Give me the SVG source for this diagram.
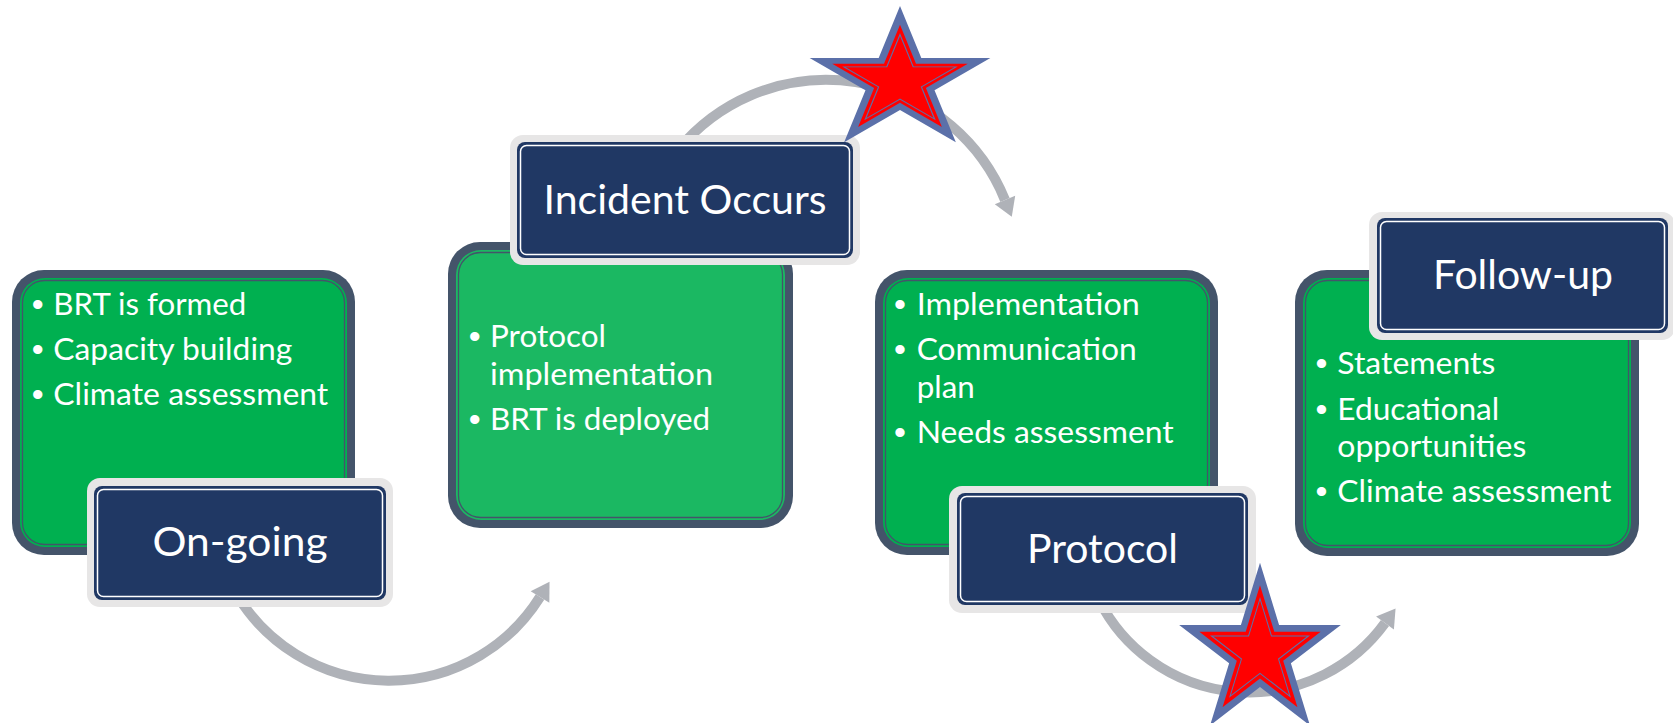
<svg xmlns="http://www.w3.org/2000/svg" xmlns:xlink="http://www.w3.org/1999/xlink" width="1673" height="723" viewBox="0 0 1673 723">
  <style>
    .rim { fill: #44546A; }
    .fill { fill: #00B050; }
    .fill2 { fill: #1BB862; }
    .keyline { fill: none; stroke: #44546A; stroke-width: 1.3; }
    .frame { fill: #E7E6E6; }
    .navy { fill: #203864; }
    .navyline { fill: none; stroke: #FFFFFF; stroke-width: 1.5; }
    .title { font-family: Lato, "Liberation Sans", sans-serif; font-size: 41px; fill: #FFFFFF; text-anchor: middle; }
    .item { font-family: Lato, "Liberation Sans", sans-serif; font-size: 31px; fill: #FFFFFF; }
    .dot { font-family: "Liberation Sans", sans-serif; font-size: 34px; fill: #FFFFFF; text-anchor: middle; }
    .arc { fill: none; stroke: #AFB2B8; stroke-width: 10; marker-end: url(#head); }
    .starOuter { fill: #5B70A9; }
    .starRed { fill: #FF0000; }
    .starLine { fill: none; stroke: #5B70A9; stroke-width: 2; vector-effect: non-scaling-stroke; }
  </style>
  <defs>
    <marker id="head" markerUnits="userSpaceOnUse" markerWidth="20" markerHeight="24" refX="0" refY="12" orient="auto" overflow="visible">
      <path d="M0,1 L18,12 L0,23 Z" fill="#AFB2B8"/>
    </marker>
    <!-- five-point star, outer radius 100, centred on the origin -->
    <polygon id="star" points="0,-100 22.45,-30.9 95.11,-30.9 36.33,11.8 58.78,80.9 0,38.2 -58.78,80.9 -36.33,11.8 -95.11,-30.9 -22.45,-30.9"/>
  </defs>

  <!-- curved arrows between the stages -->
  <g id="connectors">
    <path class="arc" d="M 236.9 595 A 178 178 0 0 0 540 597"/>
    <path class="arc" d="M 678 150 A 192.5 192.5 0 0 1 1005 200"/>
    <path class="arc" d="M 1099 600 A 168 168 0 0 0 1385 623"/>
  </g>

  <!-- stage 1 -->
  <g id="ongoing">
    <rect class="rim" x="12" y="270" width="343" height="285" rx="32"/>
    <rect class="fill" x="20" y="278" width="327" height="269" rx="25"/>
    <rect class="keyline" x="22.5" y="280.5" width="322" height="264" rx="22"/>
    <text class="dot" x="37.7" y="316">•</text>
    <text class="item" x="53.3" y="315" textLength="193" lengthAdjust="spacingAndGlyphs">BRT is formed</text>
    <text class="dot" x="37.7" y="361">•</text>
    <text class="item" x="53.3" y="360" textLength="239" lengthAdjust="spacingAndGlyphs">Capacity building</text>
    <text class="dot" x="37.7" y="406">•</text>
    <text class="item" x="53.3" y="405" textLength="275" lengthAdjust="spacingAndGlyphs">Climate assessment</text>
    <rect class="frame" x="87" y="478" width="306" height="129" rx="13"/>
    <rect class="navy" x="94" y="486" width="292" height="114" rx="8"/>
    <rect class="navyline" x="97.5" y="489.5" width="285" height="107" rx="6"/>
    <text class="title" x="240" y="556" textLength="175" lengthAdjust="spacingAndGlyphs">On-going</text>
  </g>

  <!-- stage 2 -->
  <g id="incident">
    <rect class="rim" x="448" y="242" width="345" height="286" rx="32"/>
    <rect class="fill2" x="456" y="250" width="329" height="270" rx="25"/>
    <rect class="keyline" x="458.5" y="252.5" width="324" height="265" rx="22"/>
    <text class="dot" x="474.6" y="348">•</text>
    <text class="item" x="490" y="347" textLength="116" lengthAdjust="spacingAndGlyphs">Protocol</text>
    <text class="item" x="490" y="385" textLength="223" lengthAdjust="spacingAndGlyphs">implementation</text>
    <text class="dot" x="474.6" y="431">•</text>
    <text class="item" x="490" y="430" textLength="220" lengthAdjust="spacingAndGlyphs">BRT is deployed</text>
    <rect class="frame" x="510" y="135" width="350" height="130" rx="13"/>
    <rect class="navy" x="517" y="142" width="336" height="116" rx="8"/>
    <rect class="navyline" x="520.5" y="145.5" width="329" height="109" rx="6"/>
    <text class="title" x="685" y="214" textLength="283" lengthAdjust="spacingAndGlyphs">Incident Occurs</text>
  </g>

  <!-- stage 3 -->
  <g id="protocol">
    <rect class="rim" x="875" y="270" width="343" height="285" rx="32"/>
    <rect class="fill" x="883" y="278" width="327" height="269" rx="25"/>
    <rect class="keyline" x="885.5" y="280.5" width="322" height="264" rx="22"/>
    <text class="dot" x="900" y="316">•</text>
    <text class="item" x="916.7" y="315" textLength="223" lengthAdjust="spacingAndGlyphs">Implementation</text>
    <text class="dot" x="900" y="361">•</text>
    <text class="item" x="916.7" y="360" textLength="220" lengthAdjust="spacingAndGlyphs">Communication</text>
    <text class="item" x="916.7" y="398" textLength="58" lengthAdjust="spacingAndGlyphs">plan</text>
    <text class="dot" x="900" y="444">•</text>
    <text class="item" x="916.7" y="443" textLength="257" lengthAdjust="spacingAndGlyphs">Needs assessment</text>
    <rect class="frame" x="949" y="486" width="307" height="127" rx="13"/>
    <rect class="navy" x="957" y="493" width="291" height="112" rx="8"/>
    <rect class="navyline" x="960.5" y="496.5" width="284" height="105" rx="6"/>
    <text class="title" x="1102.5" y="563" textLength="151" lengthAdjust="spacingAndGlyphs">Protocol</text>
  </g>

  <!-- stage 4 -->
  <g id="followup">
    <rect class="rim" x="1295" y="270" width="344" height="286" rx="32"/>
    <rect class="fill" x="1303" y="278" width="328" height="270" rx="25"/>
    <rect class="keyline" x="1305.5" y="280.5" width="323" height="265" rx="22"/>
    <text class="dot" x="1321.5" y="375">•</text>
    <text class="item" x="1337.3" y="374" textLength="158" lengthAdjust="spacingAndGlyphs">Statements</text>
    <text class="dot" x="1321.5" y="421">•</text>
    <text class="item" x="1337.3" y="420" textLength="162" lengthAdjust="spacingAndGlyphs">Educational</text>
    <text class="item" x="1337.3" y="457" textLength="189" lengthAdjust="spacingAndGlyphs">opportunities</text>
    <text class="dot" x="1321.5" y="503">•</text>
    <text class="item" x="1337.3" y="502" textLength="274" lengthAdjust="spacingAndGlyphs">Climate assessment</text>
    <rect class="frame" x="1369" y="212" width="306" height="128" rx="13"/>
    <rect class="navy" x="1377" y="218" width="291" height="115" rx="8"/>
    <rect class="navyline" x="1380.5" y="221.5" width="284" height="108" rx="6"/>
    <text class="title" x="1523" y="289" textLength="180" lengthAdjust="spacingAndGlyphs">Follow-up</text>
  </g>

  <!-- stars -->
  <g id="star-top" transform="translate(900 81.3) scale(0.95 0.753)">
    <use xlink:href="#star" class="starOuter"/>
    <use xlink:href="#star" class="starRed" transform="scale(0.75)"/>
    <use xlink:href="#star" class="starLine" transform="scale(0.62)"/>
  </g>
  <g id="star-bottom" transform="translate(1260 652.7) scale(0.85 0.9)">
    <use xlink:href="#star" class="starOuter"/>
    <use xlink:href="#star" class="starRed" transform="scale(0.75)"/>
    <use xlink:href="#star" class="starLine" transform="scale(0.6)"/>
  </g>
</svg>
